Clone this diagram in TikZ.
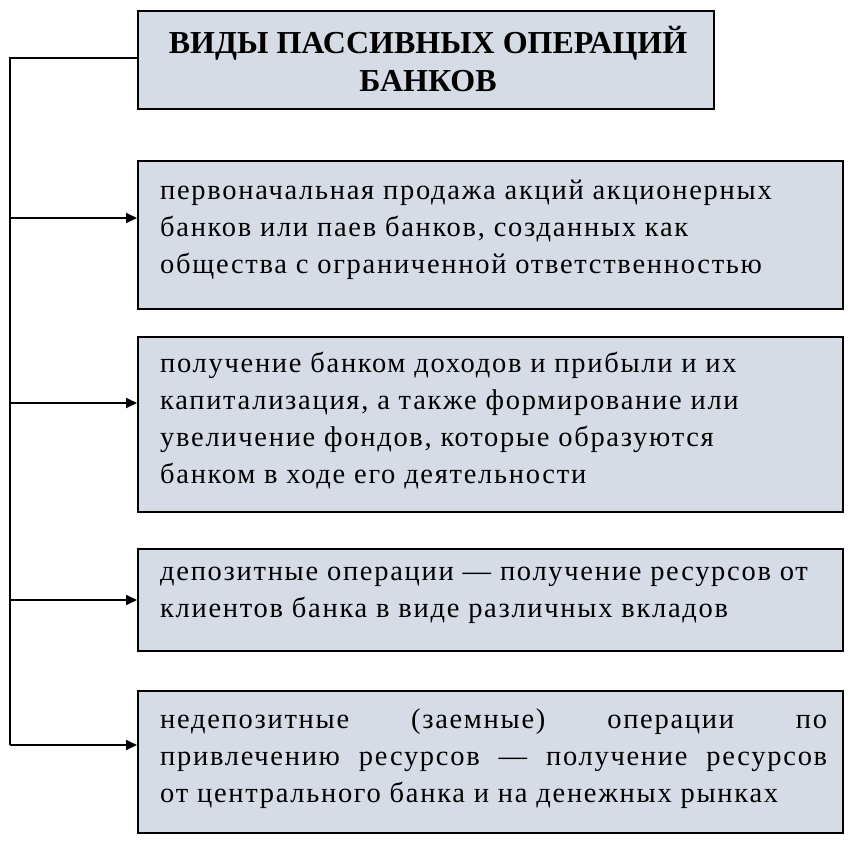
\documentclass[tikz,border=0pt]{standalone}
\usepackage{fontspec}
\setmainfont{Liberation Serif}
\newfontfamily\boxfont[LetterSpace=6]{Liberation Serif}
\usetikzlibrary{arrows.meta}
\definecolor{boxfill}{HTML}{D5DCE6}
\tikzset{kind/.style={draw, line width=2pt, fill=boxfill, anchor=north west, minimum width=705pt, inner sep=0pt},
         txt/.style={anchor=north west, align=left, inner sep=0pt, font=\boxfont\fontsize{28.5}{37}\selectfont},
         feed/.style={-{Triangle[length=11pt,width=10pt]}, line width=1.8pt},
        }
\begin{document}
\begin{tikzpicture}[x=1pt,y=-1pt]
        \useasboundingbox (0,0) rectangle (862,844);
        \node[kind, minimum width=576pt, minimum height=98pt](head)at(137,10){};
        \node[align=center, font=\bfseries\fontsize{32}{38}\selectfont](headt)at(428,59){ВИДЫ ПАССИВНЫХ ОПЕРАЦИЙ\\БАНКОВ};

        \node[kind, minimum height=148pt](k1)at(137,160){};
        \node[txt](k1t)at(160,180){первоначальная продажа акций акционерных\\банков или паев банков, созданных как\\общества с ограниченной ответственностью};
        \node[kind, minimum height=175pt](k2)at(137,336){};
        \node[txt](k2t)at(160,352){получение банком доходов и прибыли и их\\капитализация, а также формирование или\\увеличение фондов, которые образуются\\банком в ходе его деятельности};
        \node[kind, minimum height=102pt](k3)at(137,548){};
        \node[txt](k3t)at(160,567){депозитные операции — получение ресурсов от\\клиентов банка в виде различных вкладов};
        \node[kind, minimum height=142pt](k4)at(137,690){};
        \node[txt](k4t)at(160,709){\makebox[667pt][s]{недепозитные (заемные) операции по}\\\makebox[667pt][s]{привлечению ресурсов — получение ресурсов}\\от центрального банка и на денежных рынках};

        \coordinate(top)at(10,58);
        \coordinate(bot)at(10,745);
        \draw[line width=1.8pt](head.west|-top)--(top)--(bot);
        \draw[feed](10,218)--(k1.west|-0,218);
        \draw[feed](10,403)--(k2.west|-0,403);
        \draw[feed](10,600)--(k3.west|-0,600);
        \draw[feed](bot)--(k4.west|-bot);
\end{tikzpicture}
\end{document}
